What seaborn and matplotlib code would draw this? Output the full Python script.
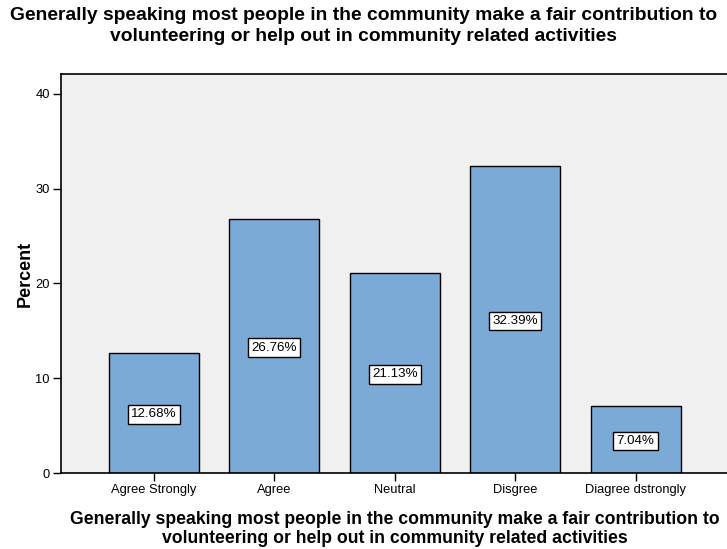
import matplotlib
matplotlib.use("Agg")
import matplotlib.pyplot as plt
import seaborn as sns
import pandas as pd

categories = ["Agree Strongly", "Agree", "Neutral", "Disgree", "Diagree dstrongly"]
percents = [12.68, 26.76, 21.13, 32.39, 7.04]
yticks = [0, 10, 20, 30, 40]
title_text = ("Generally speaking most people in the community make a fair contribution to\n"
              "volunteering or help out in community related activities")

sns.set_theme(style="white")
plt.rcParams['font.family'] = ['Liberation Sans', 'DejaVu Sans']
plt.rcParams['text.color'] = 'black'
plt.rcParams['axes.labelcolor'] = 'black'
plt.rcParams['xtick.color'] = 'black'
plt.rcParams['ytick.color'] = 'black'

df = pd.DataFrame({"cat": categories, "pct": percents})

fig = plt.figure(figsize=(7.27, 5.49), dpi=100)
ax = fig.add_axes([61/727, 1-473/549, 1-61/727+0.002, (473-74)/549])
ax.set_facecolor("#F0F0F0")

sns.barplot(data=df, x="cat", y="pct", color="#7BAAD7", saturation=1,
            edgecolor="black", linewidth=1, width=0.747, ax=ax)

ax.set_xlim(-0.772, 4.77)
ax.set_ylim(0, 42.1)
ax.set_yticks(yticks)
ax.set_yticklabels([str(t) for t in yticks], fontsize=9.3)
ax.tick_params(axis="both", which="both", direction="out", length=6, width=1,
               color="black", labelsize=9.3, pad=2, left=True, bottom=True)
for lab in ax.get_xticklabels():
    lab.set_fontsize(9.3)

for s in ["left", "bottom", "top"]:
    ax.spines[s].set_visible(True)
    ax.spines[s].set_color("black")
    ax.spines[s].set_linewidth(1.2)
ax.spines["right"].set_visible(False)

for i, v in enumerate(percents):
    ax.text(i, v / 2, f"{v:.2f}%", ha="center", va="center_baseline", fontsize=9.6,
            bbox=dict(boxstyle="square,pad=0.25", facecolor="white",
                      edgecolor="black", linewidth=1))

ax.set_ylabel("Percent", fontsize=13, fontweight="bold", labelpad=1)
ax.set_xlabel(title_text, fontsize=12.7, fontweight="bold", labelpad=11,
              linespacing=1.12)

fig.text(0.5, 1 - 26/549, title_text, ha="center", va="center", fontsize=13.9,
         fontweight="bold", linespacing=1.3)

fig.savefig("out.png", dpi=100)
